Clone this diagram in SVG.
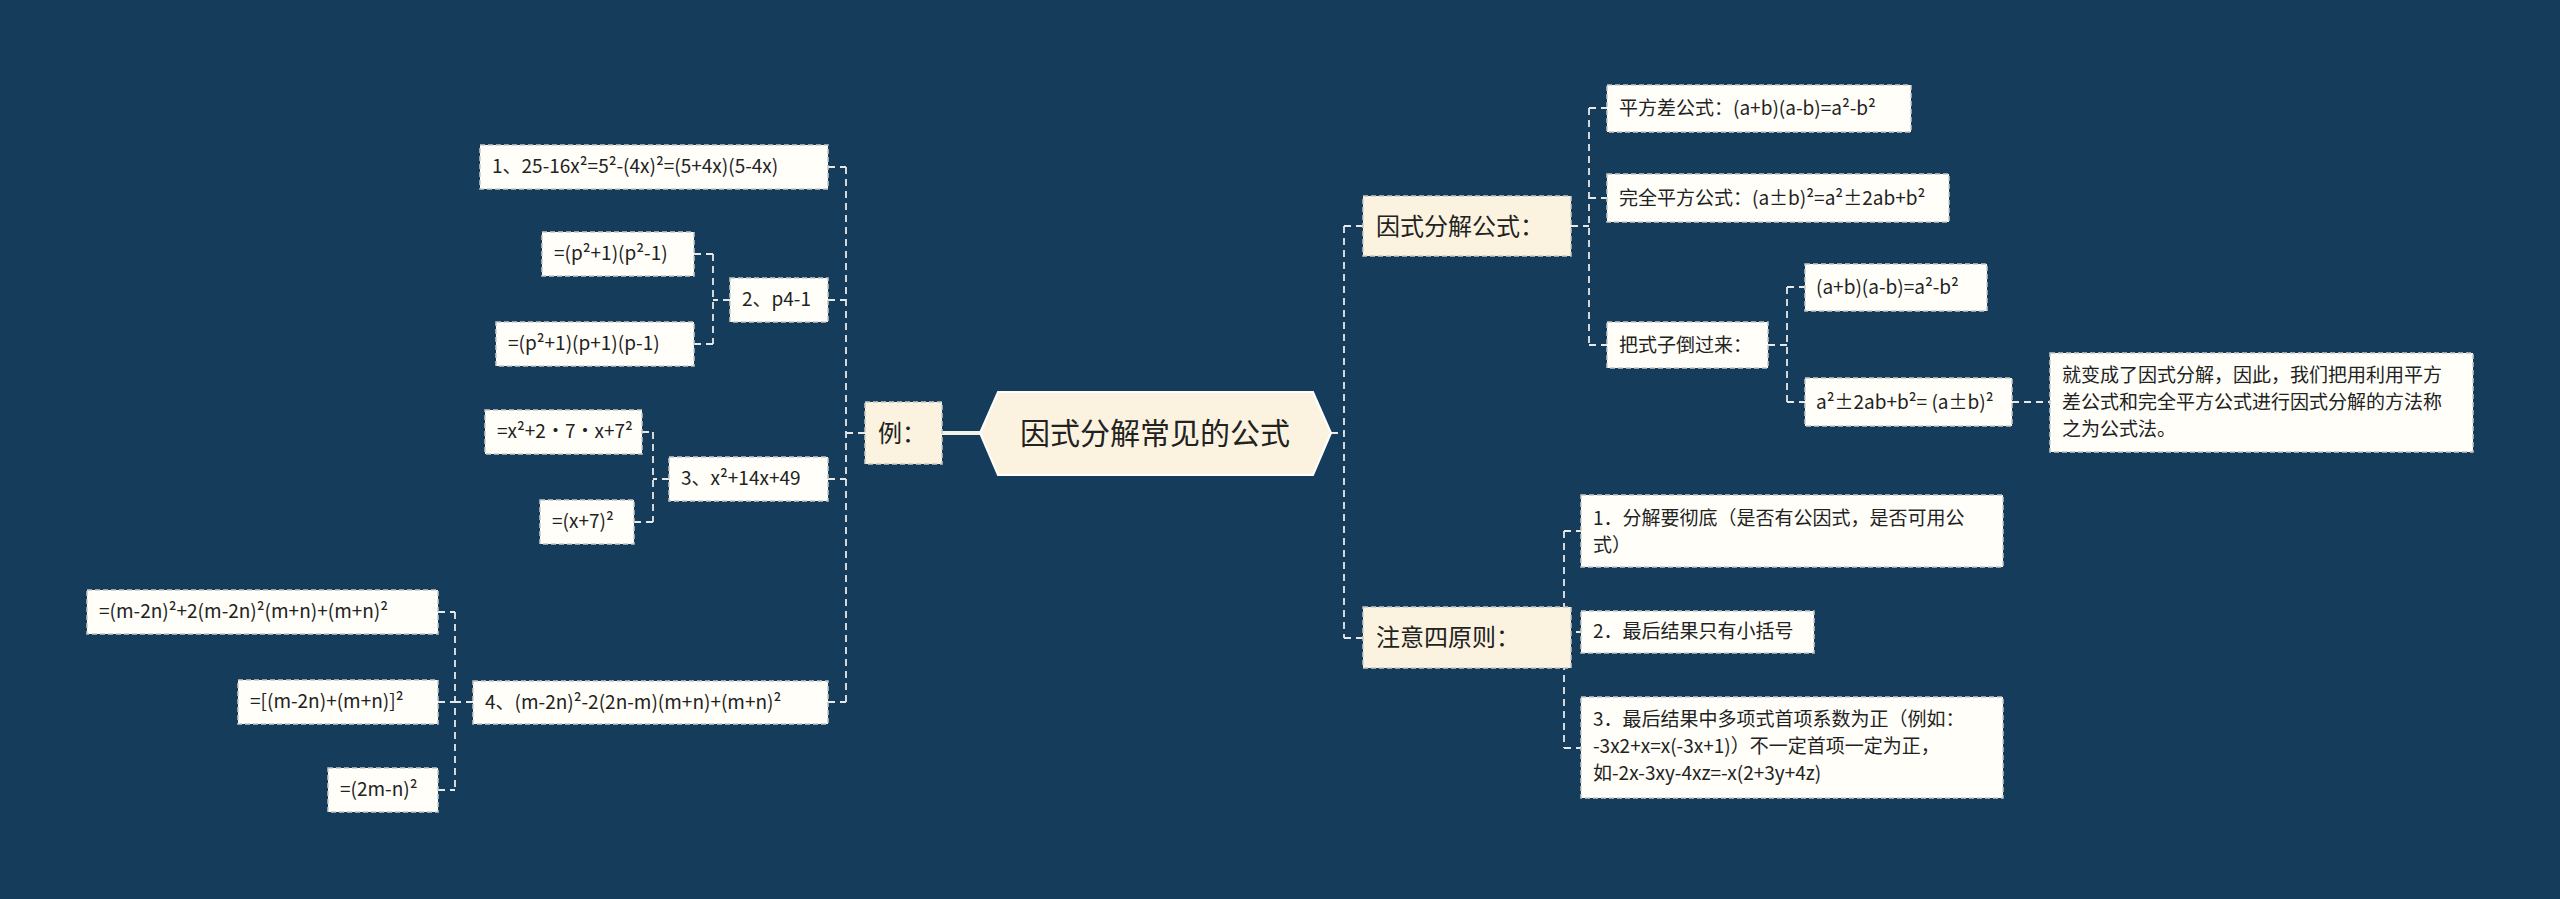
<svg xmlns="http://www.w3.org/2000/svg" width="2560" height="899" viewBox="0 0 2560 899">
<style>
text{font-family:"Noto Sans CJK SC","Noto Sans",sans-serif;fill:#222;}
.t{font-size:19px;}
.c{font-size:24px;}
.leaf{fill:#fffef8;stroke:#c8c8c8;stroke-width:1.5;stroke-dasharray:5,3;}
.cat{fill:#fbf3df;stroke:#c8c8c8;stroke-width:1.5;stroke-dasharray:5,3;}
.ln{fill:none;stroke:#e8e8e8;stroke-width:1.8;stroke-dasharray:7,5;}
</style>
<rect width="2560" height="899" fill="#163c5b"/>
<g id="connectors">
<line x1="942" y1="433" x2="980" y2="433" stroke="#f3f0e6" stroke-width="4"/>
<path class="ln" d="M865 433H846M846 167V702M828 167H846M828 300H846M828 479H846M828 702H846"/>
<path class="ln" d="M730 300H713M713 254V344M694 254H713M694 344H713"/>
<path class="ln" d="M669 479H653M653 432V522M642 432H653M634 522H653"/>
<path class="ln" d="M473 702H455M455 612V790M438 612H455M438 702H455M438 790H455"/>
<path class="ln" d="M1331 433H1344M1344 226V638M1344 226H1363M1344 638H1363"/>
<path class="ln" d="M1571 226H1589M1589 108V345M1589 108H1607M1589 198H1607M1589 345H1607"/>
<path class="ln" d="M1768 345H1787M1787 287V402M1787 287H1805M1787 402H1805M2012 402H2050"/>
<path class="ln" d="M1571 638H1564M1564 531V748M1564 531H1581M1564 632H1581M1564 748H1581"/>
</g>
<g id="center"><polygon points="980,433 998,392 1313,392 1331,433 1313,475 998,475" fill="#fbf3df" stroke="#ffffff" stroke-width="2"/><text x="1155" y="444" font-size="30" text-anchor="middle">因式分解常见的公式</text></g>
<g id="n-li"><rect class="cat" x="865" y="402" width="77" height="62"/><text class="c" x="878" y="442">例：</text></g>
<g id="n1"><rect class="leaf" x="480" y="145" width="348" height="44"/><text class="t" x="492" y="173">1、25-16x²=5²-(4x)²=(5+4x)(5-4x)</text></g>
<g id="n2"><rect class="leaf" x="730" y="278" width="98" height="44"/><text class="t" x="742" y="306">2、p4-1</text></g>
<g id="n2a"><rect class="leaf" x="542" y="232" width="152" height="44"/><text class="t" x="554" y="260">=(p²+1)(p²-1)</text></g>
<g id="n2b"><rect class="leaf" x="496" y="322" width="198" height="44"/><text class="t" x="508" y="350">=(p²+1)(p+1)(p-1)</text></g>
<g id="n3"><rect class="leaf" x="669" y="457" width="159" height="44"/><text class="t" x="681" y="485">3、x²+14x+49</text></g>
<g id="n3a"><rect class="leaf" x="485" y="410" width="157" height="44"/><text class="t" x="497" y="438">=x²+2·7·x+7²</text></g>
<g id="n3b"><rect class="leaf" x="540" y="500" width="94" height="44"/><text class="t" x="552" y="528">=(x+7)²</text></g>
<g id="n4"><rect class="leaf" x="473" y="681" width="355" height="43"/><text class="t" x="485" y="709">4、(m-2n)²-2(2n-m)(m+n)+(m+n)²</text></g>
<g id="n4a"><rect class="leaf" x="87" y="590" width="351" height="44"/><text class="t" x="99" y="618">=(m-2n)²+2(m-2n)²(m+n)+(m+n)²</text></g>
<g id="n4b"><rect class="leaf" x="238" y="680" width="200" height="44"/><text class="t" x="250" y="708">=[(m-2n)+(m+n)]²</text></g>
<g id="n4c"><rect class="leaf" x="328" y="768" width="110" height="44"/><text class="t" x="340" y="796">=(2m-n)²</text></g>
<g id="r1"><rect class="cat" x="1363" y="196" width="208" height="60"/><text class="c" x="1376" y="235">因式分解公式：</text></g>
<g id="r2"><rect class="cat" x="1363" y="607" width="208" height="61"/><text class="c" x="1376" y="646">注意四原则：</text></g>
<g id="r1a"><rect class="leaf" x="1607" y="85" width="304" height="47"/><text class="t" x="1619" y="115">平方差公式：(a+b)(a-b)=a²-b²</text></g>
<g id="r1b"><rect class="leaf" x="1607" y="174" width="342" height="48"/><text class="t" x="1619" y="205">完全平方公式：(a±b)²=a²±2ab+b²</text></g>
<g id="r1c"><rect class="leaf" x="1607" y="322" width="161" height="46"/><text class="t" x="1619" y="352">把式子倒过来：</text></g>
<g id="r1c1"><rect class="leaf" x="1805" y="264" width="182" height="47"/><text class="t" x="1816" y="294">(a+b)(a-b)=a²-b²</text></g>
<g id="r1c2"><rect class="leaf" x="1805" y="378" width="207" height="48"/><text class="t" x="1816" y="409">a²±2ab+b²= (a±b)²</text></g>
<g id="r1c2a"><rect class="leaf" x="2050" y="353" width="423" height="99"/><text class="t" x="2062" y="382">就变成了因式分解，因此，我们把用利用平方</text><text class="t" x="2062" y="409">差公式和完全平方公式进行因式分解的方法称</text><text class="t" x="2062" y="436">之为公式法。</text></g>
<g id="r2a"><rect class="leaf" x="1581" y="495" width="422" height="72"/><text class="t" x="1593" y="525">1．分解要彻底（是否有公因式，是否可用公</text><text class="t" x="1593" y="552">式）</text></g>
<g id="r2b"><rect class="leaf" x="1581" y="611" width="233" height="42"/><text class="t" x="1593" y="638">2．最后结果只有小括号</text></g>
<g id="r2c"><rect class="leaf" x="1581" y="697" width="422" height="101"/><text class="t" x="1593" y="726">3．最后结果中多项式首项系数为正（例如：</text><text class="t" x="1593" y="753">-3x2+x=x(-3x+1)）不一定首项一定为正，</text><text class="t" x="1593" y="780">如-2x-3xy-4xz=-x(2+3y+4z)</text></g>
</svg>
